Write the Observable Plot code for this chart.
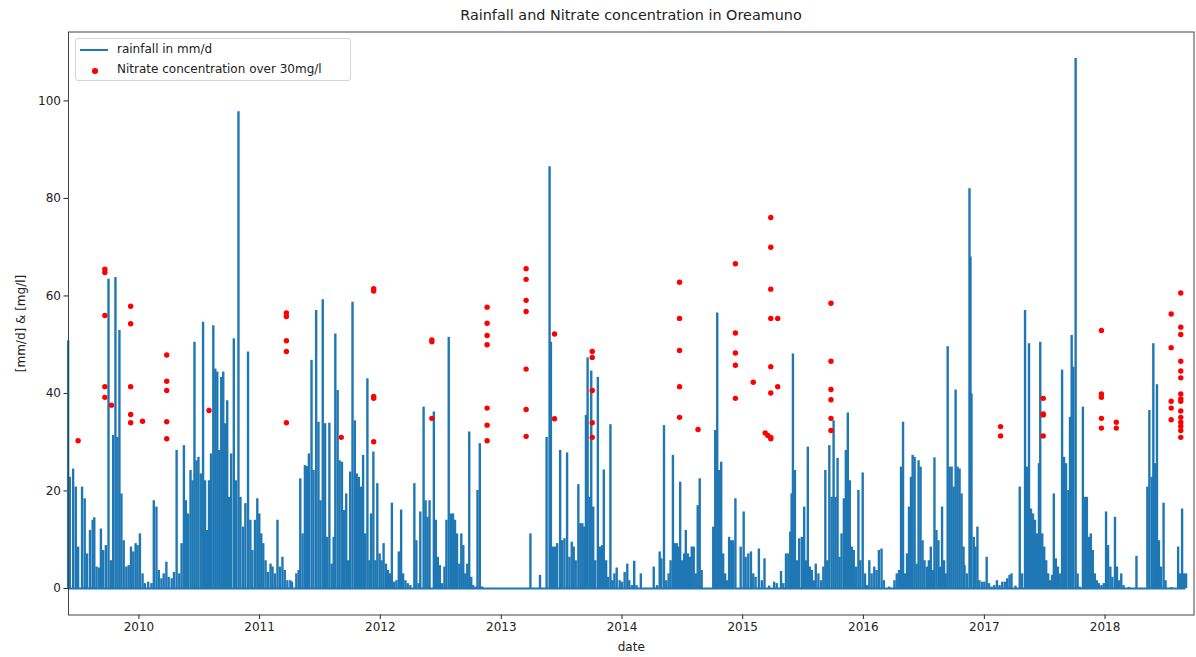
<!DOCTYPE html>
<html>
<head>
<meta charset="utf-8">
<script src="https://cdn.jsdelivr.net/npm/d3@7"></script>
<script src="https://cdn.jsdelivr.net/npm/@observablehq/plot@0.6"></script>
<style>
  html, body { margin: 0; padding: 0; background: #fff; }
  #wrap { position: relative; width: 1196px; height: 657px; font-family: "DejaVu Sans", sans-serif; color: #222; }
  #title { position: absolute; left: 68px; width: 1126px; top: 7px; text-align: center; font-size: 14.4px; }
  #legend { position: absolute; left: 75px; top: 38px; width: 276px; height: 43px; border: 1px solid #d4d4d4; border-radius: 3px; background: rgba(255,255,255,0.85); font-size: 12px; box-sizing: border-box; }
  .li { position: absolute; left: 41px; white-space: nowrap; }
  .sw-line { position: absolute; left: 4px; top: 10px; width: 28px; height: 0; border-top: 2px solid #1f77b4; }
  .sw-dot { position: absolute; left: 16px; top: 29px; width: 5.5px; height: 5.5px; border-radius: 50%; background: red; }
</style>
</head>
<body>
<div id="wrap">
  <div id="chart"></div>
  <div id="title">Rainfall and Nitrate concentration in Oreamuno</div>
  <div id="legend">
    <div class="sw-line"></div><div class="li" style="top:3px">rainfall in mm/d</div>
    <div class="sw-dot"></div><div class="li" style="top:23px">Nitrate concentration over 30mg/l</div>
  </div>
</div>
<script>
// ---- data: days since 2009-06-01 ----
const startDate = "2009-06-01";
const yearTicks = [2010, 2011, 2012, 2013, 2014, 2015, 2016, 2017, 2018];

// rainfall in mm/d, [day, value]
const rain2009_2011 = [
  [0,50.8],[5,22.8],[15,24.5],[23,20.8],[30,8.5],[42,20.8],[50,18.4],[57,7.1],[66,11.9],[74,14],[79,14.5],[86,4.4],[94,4.2],[99,12.2],[106,7.8],[114,8.8],
  [122,63.4],[129,5.7],[136,31.4],[143,63.8],[149,31],[155,52.9],[161,19.4],[168,9.8],[176,4.4],[183,4.7],[190,8.5],[197,7.5],[204,9.2],[210,8.8],[217,11.2],
  [225,3],[232,1],[242,1.3],[252,1],[259,18],[267,16.7],[274,3.7],[282,2],[289,3],[297,5.4],[304,2.3],[313,2],[320,3.3],[328,28.3],[336,3],[343,9.2],
  [350,29.3],[356,18],[363,15.3],[370,24.2],[376,22.1],[382,50.5],[388,26.2],[394,26.9],[401,23.5],[408,54.6],[414,22.1],[420,11.9],[426,22.1],[432,27.6],
  [439,53.9],[445,45],[451,44.4],[457,28.3],[463,43.3],[469,44.4],[475,33.8],[481,38.5],[487,18.7],[493,27.6],[501,51.2],[507,22.1],[515,97.8],[521,18.7],
  [529,12.6],[536,17.4],[544,48.5],[551,14],[557,7.8],[565,14],[572,18.4],[578,15.3],[584,11.2],[590,9.2],[597,5.7],[604,3.3],[612,5],[618,4.4],[625,3],
  [633,14],[640,4.4],[648,6.4],[655,3.7],[663,1.6],[672,1.6]
];
const rain2011_2013 = [
  [677,1.3],[690,3],[697,3.7],[702,22.5],[709,11.2],[716,25.2],[722,25],[728,27.6],[736,46.8],[742,24.2],[750,57],[757,34.1],[763,18],[770,59.2],[777,33.8],
  [783,10.5],[790,33.9],[797,5],[803,10.5],[808,52.2],[815,40.6],[821,26.2],[828,25.9],[834,16],[841,19.4],[847,5.7],[853,23.9],[860,58.7],[867,34.4],
  [873,23.5],[879,22.8],[886,20.8],[892,27.3],[898,11.2],[905,43],[911,5.7],[916,15.3],[923,28],[929,5.7],[935,21.5],[942,7.1],[948,5.7],[954,9.2],[961,5],
  [967,3.7],[973,3],[979,17.5],[986,1.3],[993,1.6],[1000,7.5],[1007,16.1],[1013,3],[1020,1.6],[1027,1],[1035,0.6],[1047,21.5],[1053,9.8],[1060,1],[1065,15.7],
  [1075,37.2],[1081,18],[1087,14.6],[1093,18],[1106,36.2],[1112,14],[1118,6.4],[1124,4.7],[1131,1],[1138,4.4],[1144,14],[1151,51.5],[1158,15.3],[1164,15.3],
  [1170,14],[1176,11.2],[1183,5],[1189,11.2],[1195,8.8],[1201,3],[1207,5],[1213,32.1],[1219,2.3],[1225,0.6],[1233,0.3],[1238,20.1],[1245,29.7],[1252,0.3]
];
const rain2013_2015 = [
  [1398,11.2],[1427,2.7],[1447,31],[1456,86.5],[1460,50.5],[1466,8.5],[1473,8.5],[1479,9.2],[1488,28.3],[1494,9.8],[1501,10.2],[1509,27.8],[1516,6.4],[1523,9.5],
  [1529,8.5],[1535,5.7],[1543,21.3],[1549,13.3],[1555,13.3],[1561,12.6],[1566,35.5],[1571,47.3],[1577,18.7],[1582,44.6],[1588,16.7],[1594,5.7],[1602,43.3],
  [1608,8.5],[1615,8.8],[1620,24.3],[1627,5.7],[1633,2.3],[1640,33.6],[1646,1.6],[1652,3],[1659,4.2],[1668,1.6],[1675,1.3],[1683,3.3],[1691,5],[1697,1.6],
  [1705,0.6],[1712,5.6],[1719,0.6],[1732,3],[1771,4.4],[1781,0.6],[1789,7.5],[1794,6.1],[1802,33.4],[1809,1.6],[1816,3],[1822,5.7],[1829,27.3],[1835,9.2],
  [1841,9.2],[1847,8.5],[1851,21.8],[1857,5.7],[1863,7.1],[1868,11.9],[1874,7.1],[1880,6.4],[1886,8.5],[1892,8.5],[1898,3],[1904,17],[1910,22.5],[1916,3.7],
  [1951,12.6],[1957,32.4],[1963,56.5],[1969,24.2],[1975,25.9],[1981,7.1],[1987,3],[1993,1.6],[1999,10.5],[2005,9.8],[2011,9.8],[2018,18.4]
];
const rain2015_2016 = [
  [2034,8.5],[2043,15.7],[2049,6.4],[2057,7.1],[2065,7.5],[2072,3],[2079,2.3],[2089,8.1],[2098,1.6],[2106,6.1],[2120,0.5],[2135,1.3],[2143,1],[2156,3.5],
  [2163,1],[2171,7.1],[2178,7.1],[2184,11.6],[2188,19.4],[2192,48.1],[2198,24.2],[2204,5.7],[2211,10.2],[2219,10.5],[2226,16.7],[2231,5.7],[2237,29],
  [2243,4.4],[2249,3.7],[2255,1.6],[2261,5],[2269,3],[2277,1.6],[2284,4.4],[2290,24.2],[2296,5.7],[2302,29.3],[2309,18.7],[2315,34.4],[2321,18.7],[2327,26.7],
  [2333,6.4],[2339,11.2],[2346,18.4],[2352,28.3],[2358,36],[2364,22.1],[2370,8.5],[2376,7.8],[2383,4.4],[2390,20.1],[2396,5.7],[2403,23.7],[2410,3],
  [2416,0.6],[2423,5.7],[2430,3],[2438,4.4],[2445,3.7],[2452,7.8],[2460,8.1],[2467,1.6],[2483,0.3],[2499,1.6],[2506,3],[2513,3.7],[2519,24.9],[2525,34.1],
  [2531,3],[2537,7.1],[2543,16.7],[2549,22.8],[2554,27.3],[2560,26.9],[2566,5],[2572,26.2],[2578,24.9],[2584,9.8],[2590,5.7],[2597,4.4],[2603,5.7],[2609,8.5],
  [2615,3.7],[2620,26.8],[2626,11.9],[2632,9.8],[2637,4.4],[2643,16.7],[2649,5.7],[2654,3],[2660,49.6],[2666,24.9],[2672,24.9],[2678,20.8],[2684,40.7],
  [2690,24.9],[2696,24.5],[2702,19.4],[2708,8.5]
];
const rain2016_2018 = [
  [2711,4.7],[2718,3],[2726,82],[2729,68],[2732,39.9],[2739,10.5],[2744,8.5],[2750,12.6],[2756,1.6],[2764,1.3],[2771,1.3],[2778,6.4],[2785,1],[2793,0.3],
  [2801,0.6],[2809,1.6],[2817,0.6],[2825,1.3],[2833,1.3],[2840,2],[2847,2.7],[2853,3],[2865,0.5],[2878,20.8],[2885,3],[2894,57],[2900,24.9],[2906,50.2],
  [2912,16.3],[2918,15.3],[2924,14],[2930,11.2],[2936,25.6],[2940,50.5],[2946,11.2],[2952,8.5],[2958,5.7],[2964,3],[2970,1.6],[2976,2.7],[2981,19.4],
  [2987,6.1],[2993,4.4],[2999,3],[3006,44.8],[3012,26.9],[3018,25.6],[3025,20.1],[3030,35.1],[3035,51.9],[3040,45.4],[3047,108.7],[3053,3],[3059,0.3],
  [3069,37.2],[3075,18.7],[3081,18.7],[3087,10.5],[3093,11.2],[3099,7.8],[3105,3],[3111,1.6],[3117,1],[3125,0.6],[3132,1],[3139,15.7],[3145,8.8],[3152,4.4],
  [3158,2.3],[3166,14.6],[3172,4.4],[3178,1.6],[3185,3],[3192,0.6],[3208,0.2],[3231,6.6],[3264,20.8],[3270,36.5],[3277,22.8],[3282,50.2],[3287,25.6],
  [3293,41.8],[3299,9.8],[3305,4.4],[3313,17.5],[3319,1.6],[3337,0.2],[3357,8.5],[3363,3],[3369,16.3],[3375,3],[3381,3]
];

// nitrate concentration over 30 mg/l, [day, value]
const nitrate2009_2013 = [
  [30,30.3],
  [111,65.5],[111,64.8],[111,56.0],[111,41.4],[111,39.2],[131,37.6],
  [189,57.9],[189,54.3],[189,41.4],[189,35.7],[189,34.0],[225,34.3],
  [298,47.9],[298,42.5],[298,40.6],[298,34.2],[298,30.7],[426,36.5],
  [660,56.5],[660,55.8],[660,50.8],[660,48.6],[660,34.0],[826,31.0],
  [924,61.5],[924,61.0],[924,39.4],[924,39.0],[924,30.1],
  [1100,51.0],[1100,50.6],[1100,34.9],
  [1267,57.7],[1267,54.4],[1267,51.9],[1267,50.0],[1267,37.0],[1267,33.5],[1267,30.3],
  [1385,65.6],[1385,63.4],[1385,59.1],[1385,56.8],[1385,45.0],[1385,36.7],[1385,31.2]
];
const nitrate2013_2018 = [
  [1471,52.2],[1471,34.8],
  [1585,48.6],[1585,47.4],[1585,40.6],[1585,34.0],[1585,31.0],
  [1849,62.8],[1849,55.4],[1849,48.8],[1849,41.4],[1849,35.1],[1905,32.6],
  [2018,66.6],[2018,52.4],[2018,48.3],[2018,45.8],[2018,39.0],[2072,42.3],
  [2108,31.9],[2116,31.4],
  [2125,76.1],[2125,70.0],[2125,61.4],[2125,55.4],[2125,45.5],[2125,40.1],[2125,31.0],[2125,30.7],
  [2146,55.4],[2146,41.4],
  [2307,58.5],[2307,46.6],[2307,40.8],[2307,38.7],[2307,34.9],[2307,32.4],
  [2820,33.2],[2820,31.3],
  [2949,39.0],[2949,35.8],[2949,35.6],[2949,31.3],
  [3125,52.9],[3125,39.9],[3125,39.2],[3125,34.9],[3125,32.9],
  [3170,34.1],[3170,32.9],
  [3336,56.3],[3336,49.4],[3336,38.4],[3336,37.0],[3336,34.6],
  [3365,60.6],[3365,53.6],[3365,52.1],[3365,46.6],[3365,44.6],[3365,43.2],[3365,39.9],[3365,38.9],[3365,38.4],[3365,36.4],[3365,35.1],[3365,34.1],[3365,33.3],[3365,32.4],[3365,31.0]
];

// ---- build ----
const t0 = new Date(startDate + "T00:00:00Z");
const toDate = d => d3.utcDay.offset(t0, d);
const rain = [...rain2009_2011, ...rain2011_2013, ...rain2013_2015, ...rain2015_2016, ...rain2016_2018]
  .map(([d, v]) => ({date: toDate(d), v}));
const nitrate = [...nitrate2009_2013, ...nitrate2013_2018].map(([d, v]) => ({date: toDate(d), v}));
const ext = d3.extent(rain, d => d.date);
const baseline = [{x1: ext[0], x2: ext[1], y: 0}];
const maxV = d3.max(rain, d => d.v);
const pad = maxV * 0.05;

const chart = Plot.plot({
  width: 1196,
  height: 657,
  marginTop: 31.5,
  marginLeft: 68,
  marginRight: 2.5,
  marginBottom: 42.5,
  style: {fontFamily: "DejaVu Sans, sans-serif", fontSize: "12px", color: "#222", background: "white", overflow: "visible"},
  x: {
    type: "utc",
    domain: [toDate(1), toDate(3405)],
    ticks: yearTicks.map(y => new Date(Date.UTC(y, 0, 1))),
    tickFormat: d3.utcFormat("%Y"),
    tickSize: 4.5,
    tickPadding: 3,
    label: "date",
    labelAnchor: "center",
    labelOffset: 36,
    labelArrow: "none"
  },
  y: {
    domain: [-pad, maxV + pad],
    ticks: [0, 20, 40, 60, 80, 100],
    tickSize: 4.5,
    tickPadding: 3,
    label: "[mm/d] & [mg/l]",
    labelAnchor: "center",
    labelOffset: 52,
    labelArrow: "none"
  },
  marks: [
    Plot.ruleY(baseline, {x1: "x1", x2: "x2", y: "y", stroke: "#1f77b4", strokeWidth: 2}),
    Plot.ruleX(rain, {x: "date", y1: 0, y2: "v", stroke: "#1f77b4", strokeWidth: 2.4}),
    Plot.dot(nitrate, {x: "date", y: "v", r: 2.7, fill: "red", stroke: "none"}),
    Plot.frame({stroke: "#444", strokeWidth: 1})
  ]
});
document.getElementById("chart").appendChild(chart);
</script>
</body>
</html>
